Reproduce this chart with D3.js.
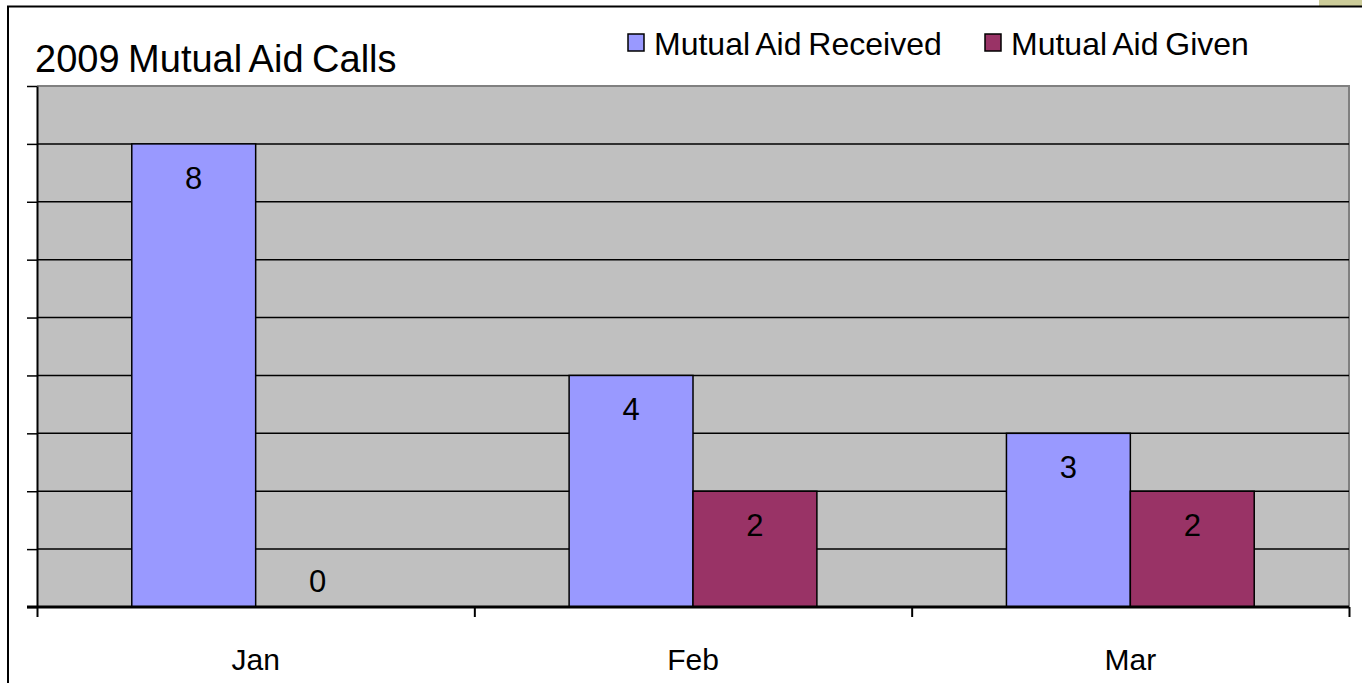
<!DOCTYPE html>
<html>
<head>
<meta charset="utf-8">
<script src="https://cdn.jsdelivr.net/npm/d3@7"></script>
<style>
	body { margin: 0; background: #fff; }
	svg { display: block; font-family: "Liberation Sans", Arial, sans-serif; }
</style>
</head>
<body>
<script>
var months = ['Jan', 'Feb', 'Mar'];
var seriesNames = ['Mutual Aid Received', 'Mutual Aid Given'];
var received = [8, 4, 3];
var given = [0, 2, 2];
var seriesColors = ['#9999ff', '#993366'];
var chartTitle = '2009 Mutual Aid Calls';

var width = 1362, height = 683;
var plot = { left: 37, right: 1349, top: 86, bottom: 607 };

var svg = d3.select('body').append('svg')
	.attr('width', width)
	.attr('height', height);

// olive strip and chart frame
svg.append('rect')
	.attr('x', 1319).attr('y', 0)
	.attr('width', 43).attr('height', 6)
	.attr('fill', '#cccc99');
svg.append('path')
	.attr('d', 'M8,' + height + 'V6.5H' + width)
	.attr('fill', 'none')
	.attr('stroke', '#000')
	.attr('stroke-width', 2);

// scales
var y = d3.scaleLinear()
	.domain([0, 9])
	.range([plot.bottom, plot.top]);

var x0 = d3.scaleBand()
	.domain(months)
	.range([plot.left, plot.right])
	.padding(0);

var x1 = d3.scaleBand()
	.domain(seriesNames)
	.range([0, x0.bandwidth()])
	.paddingInner(0)
	.paddingOuter(0.765);

// plot area
svg.append('rect')
	.attr('x', plot.left).attr('y', plot.top)
	.attr('width', plot.right - plot.left)
	.attr('height', plot.bottom - plot.top)
	.attr('fill', '#c0c0c0');
svg.append('path')
	.attr('d', 'M' + plot.left + ',' + plot.top + 'H' + plot.right + 'V' + plot.bottom)
	.attr('fill', 'none')
	.attr('stroke', '#808080')
	.attr('stroke-width', 2);

// gridlines
svg.append('g')
	.selectAll('line')
	.data(y.ticks(9).filter(function(d) { return d > 0 && d < 9; }))
	.enter().append('line')
	.attr('x1', plot.left).attr('x2', plot.right)
	.attr('y1', function(d) { return y(d); })
	.attr('y2', function(d) { return y(d); })
	.attr('stroke', '#000')
	.attr('stroke-width', 1.5);

// bars
var rows = months.map(function(m, i) {
	return { month: m, values: [received[i], given[i]] };
});

var groups = svg.append('g')
	.selectAll('g')
	.data(rows)
	.enter().append('g')
	.attr('transform', function(d) { return 'translate(' + x0(d.month) + ',0)'; });

var cells = groups.selectAll('g')
	.data(function(d) {
		return d.values.map(function(v, j) { return { name: seriesNames[j], value: v, idx: j }; });
	})
	.enter().append('g');

cells.filter(function(d) { return d.value > 0; })
	.append('rect')
	.attr('x', function(d) { return x1(d.name); })
	.attr('y', function(d) { return y(d.value); })
	.attr('width', x1.bandwidth())
	.attr('height', function(d) { return y(0) - y(d.value); })
	.attr('fill', function(d) { return seriesColors[d.idx]; })
	.attr('stroke', '#000')
	.attr('stroke-width', 1.5);

cells.append('text')
	.attr('x', function(d) { return x1(d.name) + x1.bandwidth() / 2; })
	.attr('y', function(d) {
		return d.value > 0 ? y(d.value) + 45 : y(0) - 15;
	})
	.attr('text-anchor', 'middle')
	.attr('font-size', 31)
	.attr('fill', '#000')
	.text(function(d) { return d.value; });

// y axis (ticks only)
svg.append('g')
	.attr('transform', 'translate(' + plot.left + ',0)')
	.call(d3.axisLeft(y).ticks(9).tickSize(10).tickSizeOuter(0).tickFormat(''))
	.call(function(g) {
		g.select('.domain').attr('stroke-width', 2);
		g.selectAll('.tick line').attr('stroke-width', 1.5);
	});

// x axis: tick marks on category boundaries, labels at centres
var xEdge = d3.scaleLinear()
	.domain([0, months.length])
	.range([plot.left, plot.right]);

svg.append('g')
	.attr('transform', 'translate(0,' + plot.bottom + ')')
	.call(d3.axisBottom(xEdge).tickValues(d3.range(months.length + 1)).tickSize(10).tickSizeOuter(0).tickFormat(''))
	.call(function(g) {
		g.select('.domain').attr('stroke-width', 3).attr('d', 'M' + (plot.left - 10) + ',0H' + plot.right);
		g.selectAll('.tick line').attr('stroke-width', 2);
	});

svg.append('g')
	.selectAll('text')
	.data(months)
	.enter().append('text')
	.attr('x', function(d) { return x0(d) + x0.bandwidth() / 2; })
	.attr('y', 670)
	.attr('text-anchor', 'middle')
	.attr('font-size', 30)
	.text(function(d) { return d; });

// title
svg.append('text')
	.attr('x', 35)
	.attr('y', 72)
	.attr('font-size', 38)
	.attr('word-spacing', -2)
	.text(chartTitle);

// legend
var legendX = [628, 985];
var legend = svg.append('g')
	.selectAll('g')
	.data(seriesNames)
	.enter().append('g')
	.attr('transform', function(d, i) { return 'translate(' + legendX[i] + ',0)'; });

legend.append('rect')
	.attr('x', 0).attr('y', 34)
	.attr('width', 16).attr('height', 17)
	.attr('fill', function(d, i) { return seriesColors[i]; })
	.attr('stroke', '#000')
	.attr('stroke-width', 1.5);

legend.append('text')
	.attr('x', 26)
	.attr('y', 55)
	.attr('font-size', 32)
	.attr('word-spacing', -2)
	.text(function(d) { return d; });
</script>
</body>
</html>
